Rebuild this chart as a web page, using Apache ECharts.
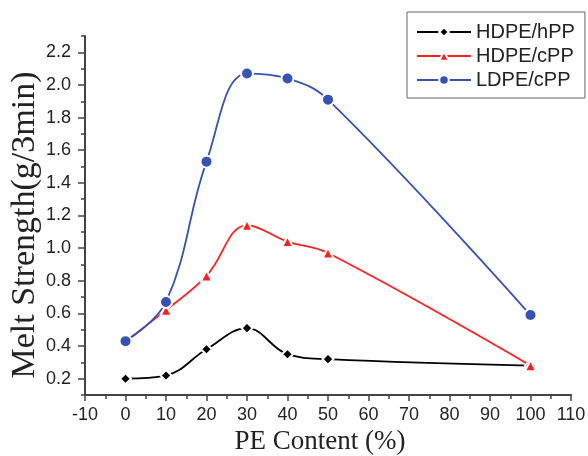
<!DOCTYPE html>
<html><head><meta charset="utf-8">
<script src="https://cdn.jsdelivr.net/npm/echarts@6/dist/echarts.min.js"></script>
<style>html,body{margin:0;padding:0;background:#fff}#c{width:588px;height:456px}</style>
</head><body><div id="c"></div>
<script>
const peContent = [0, 10, 20, 30, 40, 50, 100];
const hdpeHpp = [0.20, 0.22, 0.38, 0.51, 0.35, 0.32, 0.28];
const hdpeCpp = [0.43, 0.62, 0.83, 1.14, 1.04, 0.97, 0.28];
const ldpeCpp = [0.43, 0.67, 1.53, 2.07, 2.04, 1.91, 0.59];
const yMajorTicks = [0.2, 0.4, 0.6, 0.8, 1.0, 1.2, 1.4, 1.6, 1.8, 2.0, 2.2];
const yTitle = 'Melt Strength(g/3min)';

const pair = ys => peContent.map((x, i) => [x, ys[i]]);
const chart = echarts.init(document.getElementById('c'), null, {renderer: 'canvas'});
const axisColor = '#444';
const labelFont = {fontFamily: 'Liberation Sans, Arial, sans-serif', fontSize: 18, color: '#222'};
const titleFont = {fontFamily: 'Liberation Serif, Times New Roman, serif', color: '#222'};
const isMajor = v => yMajorTicks.some(t => Math.abs(t - v) < 1e-6);

function series(name, data, color, symbol, size) {
  return {
    name, type: 'line', data: pair(data), smooth: 0.4,
    symbol, symbolSize: size,
    lineStyle: {color, width: 1.8},
    itemStyle: {color, borderColor: '#fff', borderWidth: 2},
    z: 3
  };
}

chart.setOption({
  animation: false,
  backgroundColor: '#fff',
  grid: {left: 85, right: 17, top: 36, bottom: 61, containLabel: false, outerBoundsMode: 'none'},
  legend: {
    orient: 'vertical', left: 407, top: 12,
    padding: [10, 10, 8, 9],
    itemWidth: 54, itemHeight: 12, itemGap: 4,
    borderColor: '#666', borderWidth: 1,
    textStyle: {fontFamily: 'Liberation Sans, Arial, sans-serif', fontSize: 20, color: '#222'},
    data: ['HDPE/hPP', 'HDPE/cPP', 'LDPE/cPP']
  },
  graphic: [{
    type: 'text', x: 25, y: 225, rotation: Math.PI / 2,
    style: {text: yTitle, fontFamily: 'Liberation Serif, Times New Roman, serif', fontSize: 34,
            fill: '#222', align: 'center', verticalAlign: 'middle'}
  }],
  xAxis: {
    type: 'value', min: -10, max: 110, interval: 10,
    name: 'PE Content (%)', nameLocation: 'middle', nameGap: 31,
    nameTextStyle: Object.assign({fontSize: 27, padding: [0, 16, 0, 0]}, titleFont),
    axisLine: {onZero: false, lineStyle: {color: axisColor, width: 2}},
    axisTick: {length: 6, lineStyle: {color: axisColor, width: 1.5}},
    minorTick: {show: true, splitNumber: 2, length: 4, lineStyle: {color: axisColor, width: 1.5}},
    axisLabel: Object.assign({margin: 11}, labelFont),
    splitLine: {show: false}
  },
  yAxis: [{
    type: 'value', min: 0.1, max: 2.3, interval: 0.1,
    axisLine: {show: true, onZero: false, lineStyle: {color: axisColor, width: 2}},
    axisTick: {show: true, length: 4, lineStyle: {color: axisColor, width: 1.5}},
    axisLabel: Object.assign({margin: 14, formatter: v => isMajor(v) ? v.toFixed(1) : ''}, labelFont),
    splitLine: {show: false}
  }, {
    type: 'value', min: 0.1, max: 2.3, position: 'left',
    axisLine: {show: false, onZero: false},
    axisTick: {show: true, length: 7, customValues: yMajorTicks, lineStyle: {color: axisColor, width: 1.5}},
    axisLabel: {show: false, customValues: yMajorTicks},
    splitLine: {show: false}
  }],
  series: [
    series('HDPE/hPP', hdpeHpp, '#000000', 'diamond', 11),
    series('HDPE/cPP', hdpeCpp, '#ff1f1f', 'triangle', 11),
    series('LDPE/cPP', ldpeCpp, '#3652b4', 'circle', 12)
  ]
});
</script></body></html>
